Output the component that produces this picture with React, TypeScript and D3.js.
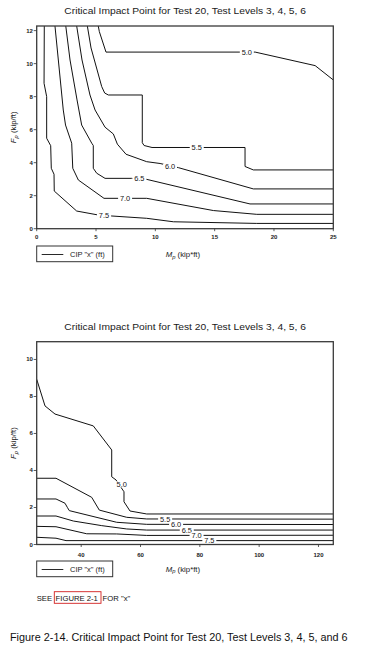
import React, { useLayoutEffect, useRef, useState } from "react";
import * as d3 from "d3";

type Pt = [number, number];

// Contour levels, CIP "x" (ft)
const levels = ["5.0", "5.5", "6.0", "6.5", "7.0", "7.5"];

// ---------- Top chart: Mp 0-25 kip*ft, Fp 0-12 kip/ft ----------
const top50: Pt[] = [[5.19, 12.28], [5.28, 11.94], [5.84, 10.7], [18.41, 10.7], [23.47, 9.88], [25, 9.01]];
const top55: Pt[] = [[4.27, 12.28], [4.58, 10.95], [5.48, 8.61], [5.73, 8.22], [6.04, 8.1], [8.9, 8.1], [8.9, 5.21], [9.05, 5.04], [9.72, 4.92], [17.56, 4.92], [17.56, 3.77], [18.26, 3.56], [25, 3.56]];
const top60: Pt[] = [[3.37, 12.28], [3.82, 10.22], [4.49, 8.1], [4.92, 7.19], [5.76, 6.15], [6.46, 5.74], [6.8, 5.12], [7.53, 4.51], [9.27, 4.06], [10.4, 3.95], [11.94, 3.7], [18.26, 2.41], [25, 2.41]];
const top65: Pt[] = [[2.45, 12.28], [2.81, 10.22], [3.4, 7.8], [3.79, 6.28], [4.64, 5.18], [4.77, 5.04], [4.77, 3.66], [5.06, 3.36], [5.76, 3.05], [8.01, 3.05], [9.27, 2.99], [17.98, 1.5], [25, 1.5]];
const top70: Pt[] = [[1.54, 12.28], [2.24, 7.19], [2.43, 6.28], [2.95, 5.18], [3.04, 3.66], [3.51, 2.95], [5.67, 1.84], [9.27, 1.84], [14.89, 1.1], [18.55, 0.87], [25, 0.87]];
const top75: Pt[] = [[0.64, 12.28], [0.62, 8.81], [0.84, 8.0], [0.84, 5.48], [1.18, 5.03], [1.23, 3.66], [1.46, 3.3], [1.48, 2.28], [3.37, 1.07], [5.19, 0.83], [6.32, 0.77], [9.27, 0.63], [11.52, 0.42], [18.55, 0.32], [25, 0.32]];
const topLabelAt: Pt[] = [[17.71, 10.7], [13.49, 4.92], [11.24, 3.76], [8.65, 3.04], [7.45, 1.84], [5.67, 0.8]];
const topXTicks = [0, 5, 10, 15, 20, 25];
const topYTicks = [0, 2, 4, 6, 8, 10, 12];

// ---------- Bottom chart: Mp 25-125 kip*ft, Fp 0-11 kip/ft ----------
const bot50: Pt[] = [[25, 8.93], [27.8, 7.49], [31.17, 7.05], [44.08, 6.41], [50.29, 5.11], [50.29, 3.66], [51.74, 3.49], [54.43, 2.85], [54.43, 2.31], [56.46, 1.81], [62.09, 1.65], [125, 1.65]];
const bot55: Pt[] = [[25, 3.58], [31.51, 3.58], [43.54, 2.55], [46.11, 1.86], [55.34, 1.47], [62.09, 1.38], [125, 1.37]];
const bot60: Pt[] = [[25, 2.46], [31.51, 2.46], [34.54, 2.23], [35.32, 2.01], [35.99, 1.83], [51.97, 1.2], [62.09, 1.09], [125, 1.08]];
const bot65: Pt[] = [[25, 1.54], [31.51, 1.54], [37.34, 1.27], [46.92, 1.02], [55.34, 0.84], [62.09, 0.78], [125, 0.78]];
const bot70: Pt[] = [[25, 0.98], [31.51, 0.96], [41.86, 0.58], [51.97, 0.57], [62.09, 0.49], [125, 0.5]];
const bot75: Pt[] = [[25, 0.39], [31.51, 0.34], [34.88, 0.21], [125, 0.21]];
const botLabelAt: Pt[] = [[53.66, 3.25], [68.3, 1.37], [72.0, 1.08], [75.6, 0.78], [78.9, 0.49], [83.2, 0.21]];
const botXTicks = [40, 60, 80, 100, 120];
const botYTicks = [0, 2, 4, 6, 8, 10];

const titleText = "Critical Impact Point for Test 20, Test Levels 3, 4, 5, 6";
const captionText = "Figure 2-14. Critical Impact Point for Test 20, Test Levels 3, 4, 5, and 6";
const FONT = "'Liberation Sans', Arial, sans-serif";

// Text squeezed horizontally to a target width (keeps glyphs real text)
function FitText(props: { x: number; y: number; width: number; fontSize: number; children: string; fill?: string; fontFamily?: string }) {
  const ref = useRef<SVGTextElement>(null);
  const [sx, setSx] = useState(1);
  useLayoutEffect(() => {
    if (ref.current) {
      const w = ref.current.getComputedTextLength();
      if (w > 0) setSx(props.width / w);
    }
  }, [props.width, props.children]);
  return (
    <text
      ref={ref}
      transform={`translate(${props.x},${props.y}) scale(${sx},1)`}
      fontSize={props.fontSize}
      fontFamily={props.fontFamily || FONT}
      fill={props.fill || "#111"}
    >
      {props.children}
    </text>
  );
}

type ChartProps = {
  id: string;
  top: number;
  bottom: number;
  xDomain: [number, number];
  yDomain: [number, number];
  lines: Pt[][];
  labelAt: Pt[];
  xTicks: number[];
  yTicks: number[];
  xTickY: number;
  axisTitleY: number;
  legendTop: number;
};

function Chart(p: ChartProps) {
  const left = 36.7;
  const right = 333.3;
  const x = d3.scaleLinear().domain(p.xDomain).range([left, right]);
  const y = d3.scaleLinear().domain(p.yDomain).range([p.bottom, p.top]);
  const line = d3.line<Pt>().x((d) => x(d[0])).y((d) => y(d[1]));
  const cy = (p.top + p.bottom) / 2;
  return (
    <g fontFamily={FONT}>
      <defs>
        <clipPath id={p.id}>
          <rect x={left} y={p.top} width={right - left} height={p.bottom - p.top} />
        </clipPath>
      </defs>
      <FitText x={64.3} y={p.top - 11.8} width={241.7} fontSize={9.6} fill="#1a1a1a">
        {titleText}
      </FitText>
      <g clipPath={`url(#${p.id})`}>
        {p.lines.map((l, i) => (
          <path key={i} d={line(l) || ""} fill="none" stroke="#111" strokeWidth={1} />
        ))}
      </g>
      {p.labelAt.map((d, i) => (
        <g key={i}>
          <rect x={x(d[0]) - 7} y={y(d[1]) - 3} width={14} height={6} fill="#fff" />
          <text x={x(d[0])} y={y(d[1])} textAnchor="middle" dominantBaseline="central" fontSize={7.4} fill="#111">
            {levels[i]}
          </text>
        </g>
      ))}
      <rect x={left} y={p.top} width={right - left} height={p.bottom - p.top} fill="none" stroke="#3a3a3a" strokeWidth={1.3} />
      {p.yTicks.map((t) => (
        <g key={t}>
          <line x1={left - 3} x2={left} y1={y(t)} y2={y(t)} stroke="#333" strokeWidth={0.8} />
          <text x={left - 3.8} y={y(t)} textAnchor="end" dominantBaseline="central" fontSize={6} fontWeight="bold" fill="#222">
            {t}
          </text>
        </g>
      ))}
      {p.xTicks.map((t) => (
        <g key={t}>
          <line x1={x(t)} x2={x(t)} y1={p.bottom} y2={p.bottom + 2.5} stroke="#333" strokeWidth={0.8} />
          <text x={x(t)} y={p.xTickY} textAnchor="middle" dominantBaseline="central" fontSize={6} fontWeight="bold" fill="#222">
            {t}
          </text>
        </g>
      ))}
      <text transform={`translate(13.5, ${cy}) rotate(-90)`} textAnchor="middle" fontSize={7.8} fill="#222" dy={2.6}>
        <tspan fontStyle="italic">F</tspan>
        <tspan fontStyle="italic" fontSize={5.8} dy={1.8}>p</tspan>
        <tspan dy={-1.8}> (kip/ft)</tspan>
      </text>
      <text x={165.7} y={p.axisTitleY} fontSize={7.8} fill="#222" dy={2.6}>
        <tspan fontStyle="italic">M</tspan>
        <tspan fontStyle="italic" fontSize={5.8} dy={1.8}>p</tspan>
        <tspan dy={-1.8}> (kip*ft)</tspan>
      </text>
      <rect x={36.7} y={p.legendTop} width={76} height={15.7} fill="#fff" stroke="#333" strokeWidth={1} />
      <line x1={41.7} x2={63.3} y1={p.legendTop + 8.5} y2={p.legendTop + 8.5} stroke="#111" strokeWidth={0.9} />
      <text x={70} y={p.legendTop + 8.5} dominantBaseline="central" fontSize={7.5} fill="#222">
        CIP "x" (ft)
      </text>
    </g>
  );
}

export default function App() {
  return (
    <svg
      width={367}
      height={649}
      viewBox="0 0 367 649"
      style={{ position: "absolute", left: 0, top: 0, background: "#fff" }}
    >
      <rect width={367} height={649} fill="#fff" />
      <Chart
        id="clipTop"
        top={26}
        bottom={228.7}
        xDomain={[0, 25]}
        yDomain={[0, 12.28]}
        lines={[top50, top55, top60, top65, top70, top75]}
        labelAt={topLabelAt}
        xTicks={topXTicks}
        yTicks={topYTicks}
        xTickY={236.7}
        axisTitleY={254.5}
        legendTop={246}
      />
      <Chart
        id="clipBot"
        top={341.7}
        bottom={544.5}
        xDomain={[25, 125]}
        yDomain={[0, 10.96]}
        lines={[bot50, bot55, bot60, bot65, bot70, bot75]}
        labelAt={botLabelAt}
        xTicks={botXTicks}
        yTicks={botYTicks}
        xTickY={555}
        axisTitleY={569}
        legendTop={561}
      />
      <g fontFamily={FONT} fontSize={7.7} fill="#111">
        <text x={36.7} y={600.5}>SEE</text>
        <rect x={54.3} y={591.7} width={46.7} height={11.6} fill="none" stroke="#d21f1f" strokeWidth={0.9} />
        <text x={55.6} y={600.5}>FIGURE 2-1</text>
        <text x={102.6} y={600.5}>FOR "x"</text>
      </g>
      <FitText x={10} y={640.5} width={338} fontSize={10.8} fill="#111" fontFamily="'Liberation Sans', Arial, sans-serif">
        {captionText}
      </FitText>
    </svg>
  );
}
